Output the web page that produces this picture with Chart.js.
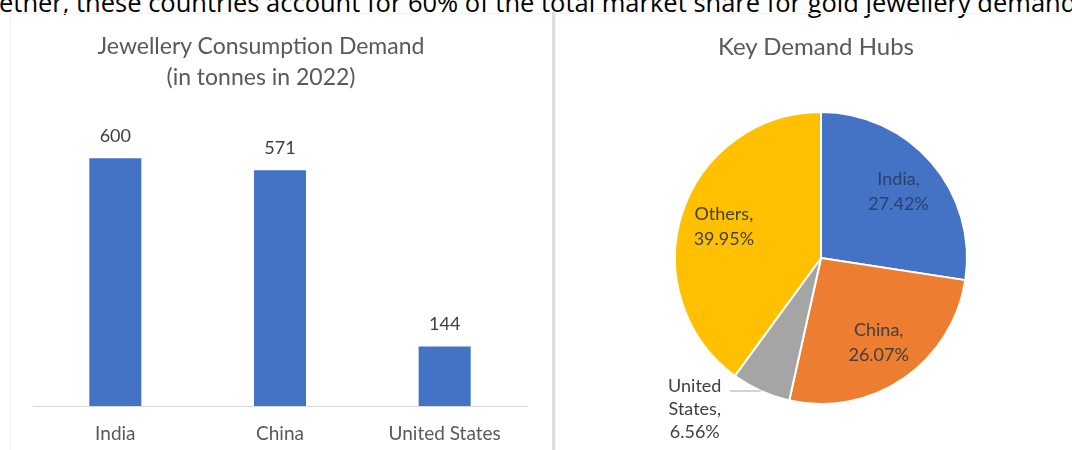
<!DOCTYPE html>
<html>
<head>
<meta charset="utf-8">
<script src="https://cdn.jsdelivr.net/npm/chart.js@4.4.1/dist/chart.umd.min.js"></script>
<style>
  html, body { margin: 0; padding: 0; background: #fff; }
  body { width: 1072px; height: 450px; position: relative; overflow: hidden; font-family: Lato, 'Open Sans', sans-serif; }
  .lead {
    position: absolute; left: -1px; top: -15px; white-space: nowrap;
    font-family: 'Liberation Sans Narrow', 'Open Sans', sans-serif; font-size: 25.5px; color: #000;
  }
  .panel { position: absolute; top: 13px; height: 450px; border: 1px solid #f2f2f2; box-sizing: border-box; }
  .divider { position: absolute; left: 552px; top: 12px; width: 3px; height: 440px; background: #dedede; }
  .title { position: absolute; color: #595959; text-align: center; line-height: 31px; }
  canvas { position: absolute; top: 0; }
</style>
</head>
<body>
<div class="lead">ether, these countries account for 60% of the total market share for gold jewellery demand</div>
<div class="panel" style="left:10px; width:543px;"></div>
<div class="panel" style="left:555px; width:520px;"></div>
<div class="divider"></div>

<div style="position:absolute; left:0; top:0; width:553px; height:450px;"><canvas id="chart-bar"></canvas></div>
<div style="position:absolute; left:556px; top:0; width:516px; height:450px;"><canvas id="chart-pie"></canvas></div>

<div class="title" style="left:61px; width:400px; top:30px; font-size:23px;">Jewellery Consumption Demand<br>(in tonnes in 2022)</div>
<div class="title" style="left:616px; width:400px; top:30px; font-size:24px;">Key Demand Hubs</div>

<script>
/* ── Data ── */
const barLabels = ['India', 'China', 'United States'];
const barValues = [600, 571, 144];

const pieLabels = ['India', 'China', 'United States', 'Others'];
const pieValues = [27.42, 26.07, 6.56, 39.95];

/* ── Styles ── */
const BAR_COLOR = '#4472C4';
const PIE_COLORS = ['#4472C4', '#ED7D31', '#A5A5A5', '#FFC000'];
const PIE_TEXT   = ['#2b4170', '#404040', '#404040', '#404040'];
const FONT = 'Lato, "Open Sans", sans-serif';

/* ── Value labels above bars ── */
const barValuePlugin = {
  id: 'barValues',
  afterDatasetsDraw(chart) {
    const { ctx } = chart;
    const meta = chart.getDatasetMeta(0);
    ctx.save();
    ctx.font = `18px ${FONT}`;
    ctx.fillStyle = '#404040';
    ctx.textAlign = 'center';
    ctx.textBaseline = 'middle';
    meta.data.forEach((bar, i) => {
      ctx.fillText(String(barValues[i]), bar.x, bar.y - 22);
    });
    ctx.restore();
  }
};

/* ── Slice labels (inside, or outside with leader for small slices) ── */
const pieLabelPlugin = {
  id: 'pieLabels',
  afterDatasetsDraw(chart) {
    const { ctx } = chart;
    const meta = chart.getDatasetMeta(0);
    ctx.save();
    ctx.font = `18px ${FONT}`;
    ctx.textAlign = 'center';
    ctx.textBaseline = 'middle';
    meta.data.forEach((arc, i) => {
      const { x, y, startAngle, endAngle, outerRadius } = arc.getProps(['x', 'y', 'startAngle', 'endAngle', 'outerRadius'], true);
      const mid = (startAngle + endAngle) / 2;
      const pct = pieValues[i].toFixed(2) + '%';
      ctx.fillStyle = PIE_TEXT[i];
      if (pieValues[i] >= 10) {
        const r = outerRadius * 0.7;
        const lx = x + Math.cos(mid) * r, ly = y + Math.sin(mid) * r;
        ctx.fillText(pieLabels[i] + ',', lx, ly - 12);
        ctx.fillText(pct, lx, ly + 13);
      } else {
        const ex = x + Math.cos(mid) * outerRadius;
        const ey = y + Math.sin(mid) * outerRadius;
        const endX = ex - 31;
        ctx.strokeStyle = '#a6a6a6';
        ctx.lineWidth = 1;
        ctx.beginPath();
        ctx.moveTo(ex, ey);
        ctx.lineTo(endX, ey);
        ctx.stroke();
        const words = pieLabels[i].split(' ');
        const lines = [...words.slice(0, -1), words[words.length - 1] + ',', pct];
        lines.forEach((t, k) => ctx.fillText(t, endX - 35, ey - 5 + k * 23));
      }
    });
    ctx.restore();
  }
};

/* ── Bar chart ── */
new Chart(document.getElementById('chart-bar'), {
  type: 'bar',
  data: {
    labels: barLabels,
    datasets: [{ data: barValues, backgroundColor: BAR_COLOR, categoryPercentage: 1, barPercentage: 0.316 }]
  },
  options: {
    responsive: true, maintainAspectRatio: false, animation: false,
    layout: { padding: { left: 33, right: 26, top: 117, bottom: 0 } },
    plugins: { legend: { display: false }, tooltip: { enabled: false } },
    scales: {
      x: {
        grid: { display: false, drawTicks: false },
        border: { display: true, color: '#d9d9d9', width: 1 },
        ticks: { color: '#595959', font: { family: FONT, size: 19 }, padding: 16 },
        afterFit: (scale) => { scale.height = 44; }
      },
      y: { display: false, min: 0, max: 700 }
    }
  },
  plugins: [barValuePlugin]
});

/* ── Pie chart ── */
new Chart(document.getElementById('chart-pie'), {
  type: 'pie',
  data: {
    labels: pieLabels,
    datasets: [{ data: pieValues, backgroundColor: PIE_COLORS, borderColor: '#fff', borderWidth: 2 }]
  },
  options: {
    responsive: true, maintainAspectRatio: false, animation: false,
    layout: { padding: { left: 118, right: 104, top: 111, bottom: 45 } },
    plugins: { legend: { display: false }, tooltip: { enabled: false } }
  },
  plugins: [pieLabelPlugin]
});
</script>
</body>
</html>
